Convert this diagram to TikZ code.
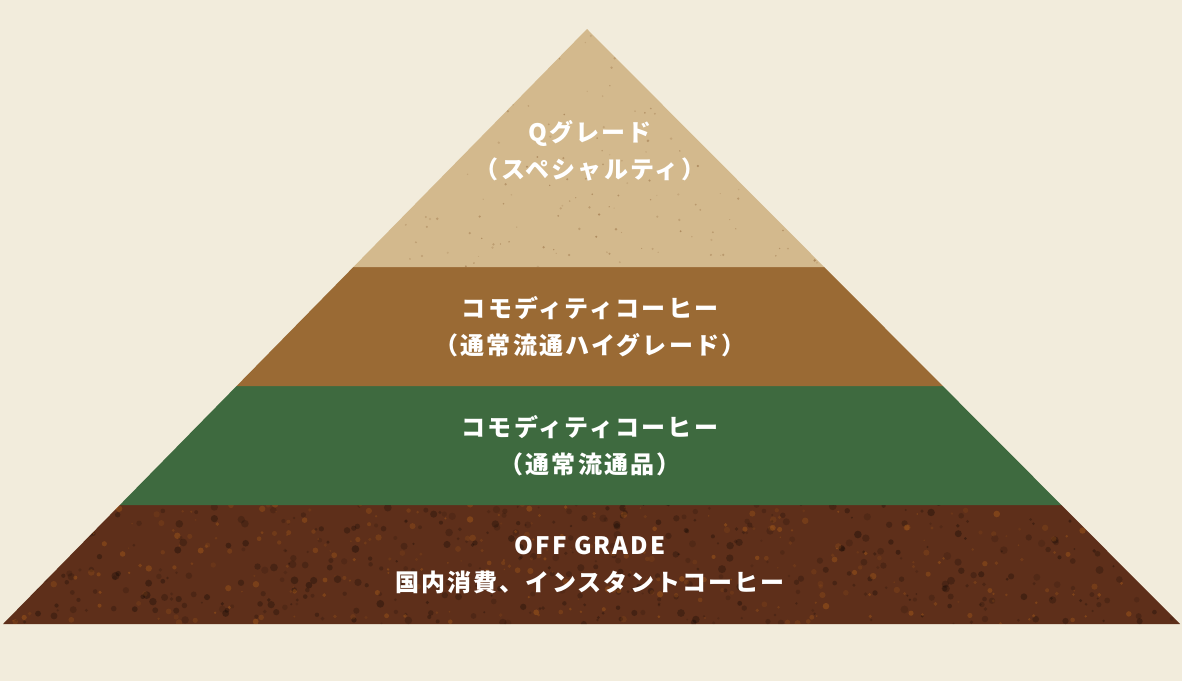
\documentclass[tikz,border=0pt]{standalone}
\usepackage{fontspec}
\newfontfamily\jp{Noto Sans CJK JP}[LetterSpace=9]
\usetikzlibrary{calc}
\definecolor{bg}{HTML}{F2ECDC}
\definecolor{tanc}{HTML}{D3B98D}
\definecolor{brownc}{HTML}{9A6A34}
\definecolor{greenc}{HTML}{3E6A3F}
\definecolor{darkc}{HTML}{5E2F1A}
\tikzset{
  lbl/.style={text=white, font=\jp\bfseries\fontsize{24}{37}\selectfont, align=center, anchor=center},
}
\begin{document}
\begin{tikzpicture}[x=1pt,y=-1pt]
\fill[bg] (0,0) rectangle (1182,681);
\useasboundingbox (0,0) rectangle (1182,681);
\coordinate (A) at (587,29);
\coordinate (L) at (3,624);
\coordinate (R) at (1180,624);
\coordinate (L1) at ($(L)!0.2!(A)$);
\coordinate (R1) at ($(R)!0.2!(A)$);
\coordinate (L2) at ($(L)!0.4!(A)$);
\coordinate (R2) at ($(R)!0.4!(A)$);
\coordinate (L3) at ($(L)!0.6!(A)$);
\coordinate (R3) at ($(R)!0.6!(A)$);
\fill[darkc] (L) -- (R) -- (R1) -- (L1) -- cycle;
\fill[greenc] (L1) -- (R1) -- (R2) -- (L2) -- cycle;
\fill[brownc] (L2) -- (R2) -- (R3) -- (L3) -- cycle;
\fill[tanc] (L3) -- (R3) -- (A) -- cycle;
% texture
\begin{scope}
\clip (L) -- (R) -- (R1) -- (L1) -- cycle;
\pgfmathsetseed{7}
\foreach \i in {1,...,500}{
  \pgfmathsetmacro{\px}{rnd*1180}
  \pgfmathsetmacro{\py}{503+rnd*121}
  \pgfmathsetmacro{\pr}{1+rnd*3}
  \pgfmathsetmacro{\op}{0.1+rnd*0.2}
  \fill[black, opacity=\op] (\px,\py) circle (\pr);
}
\foreach \i in {1,...,350}{
  \pgfmathsetmacro{\px}{rnd*1180}
  \pgfmathsetmacro{\py}{503+rnd*121}
  \pgfmathsetmacro{\pr}{0.8+rnd*2.5}
  \pgfmathsetmacro{\op}{0.08+rnd*0.18}
  \fill[orange!60!brown, opacity=\op] (\px,\py) circle (\pr);
}
\end{scope}
\begin{scope}
\clip (L3) -- (R3) -- (A) -- cycle;
\pgfmathsetseed{3}
\foreach \i in {1,...,250}{
  \pgfmathsetmacro{\px}{350+rnd*480}
  \pgfmathsetmacro{\py}{29+rnd*238}
  \pgfmathsetmacro{\pr}{0.5+rnd*0.9}
  \pgfmathsetmacro{\op}{0.15+rnd*0.35}
  \fill[brown!70!black, opacity=\op] (\px,\py) circle (\pr);
}
\end{scope}
\node[lbl] (t1) at (590,151) {Qグレード\\（スペシャルティ）};
\node[lbl] (t2) at (590,327) {コモディティコーヒー\\（通常流通ハイグレード）};
\node[lbl] (t3) at (590,446) {コモディティコーヒー\\（通常流通品）};
\node[lbl] (t4) at (590,565) {OFF GRADE\\国内消費、インスタントコーヒー};
\end{tikzpicture}
\end{document}
